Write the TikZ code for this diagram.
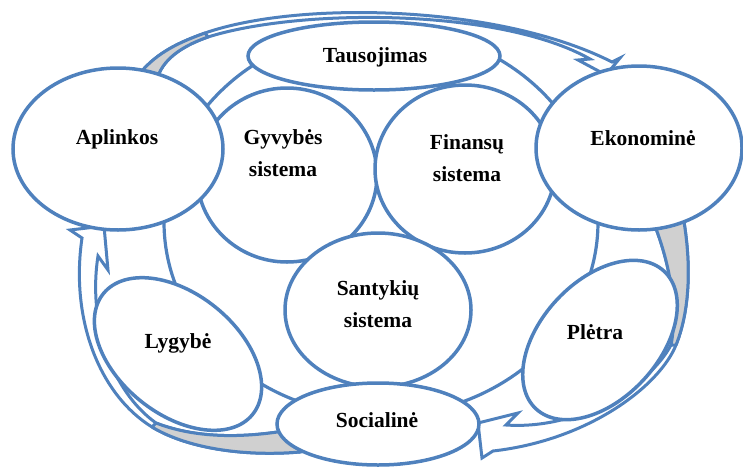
\documentclass[tikz,border=0pt]{standalone}
\usepackage{fontspec}
\setmainfont{Liberation Serif}
\usetikzlibrary{shapes.geometric}
\definecolor{sblue}{RGB}{79,129,189}
\definecolor{sgray}{RGB}{208,208,208}
\begin{document}
\begin{tikzpicture}[x=1pt,y=-1pt,
  blob/.style={draw=sblue, line width=3.5pt, fill=white, ellipse, inner sep=0pt, outer sep=0pt},
  ringline/.style={draw=sblue, line width=3.2pt, ellipse, inner sep=0pt, outer sep=0pt},
  lbl/.style={font=\fontsize{21.5}{32}\selectfont\bfseries, align=center, inner sep=0pt},
  band/.style={draw=sblue, line width=3pt, fill=white, line join=miter},
  foldpart/.style={draw=sblue, line width=3pt, fill=sgray, line join=round}]
\useasboundingbox (0,0) rectangle (743,466);
% background ring
\node[ringline, minimum width=434pt, minimum height=388pt] (ring) at (381,222) {};
% top arrow: Aplinkos -> Ekonomine
\path[band] (141,72) .. controls (158,52) and (180,42) .. (205,33)
  .. controls (300,0) and (500,5) .. (612,62)
  -- (620,58) -- (606,75) -- (578,60) -- (590,59)
  .. controls (500,8) and (300,8) .. (208,37)
  .. controls (185,45) and (165,57) .. (158,76) -- cycle;
\path[foldpart] (141,72) .. controls (158,52) and (180,42) .. (205,33)
  -- (208,37) .. controls (185,45) and (165,57) .. (158,76) -- cycle;
% right arrow: Ekonomine -> Socialine
\path[band] (684,222) .. controls (691,265) and (690,310) .. (676,345)
  .. controls (660,385) and (590,440) .. (493,451)
  -- (482,458) -- (478,423) -- (518,413) -- (506,425)
  .. controls (580,430) and (650,385) .. (671,345)
  .. controls (678,310) and (670,265) .. (655,226) -- cycle;
\path[foldpart] (684,222) .. controls (691,265) and (690,310) .. (676,345)
  -- (671,345) .. controls (678,310) and (670,265) .. (655,226) -- cycle;
% left arrow: Socialine -> Aplinkos
\path[band] (300,452) .. controls (240,457) and (185,447) .. (152,427)
  .. controls (100,395) and (70,320) .. (82,238)
  -- (70,230) -- (104,226) -- (108,270) -- (98,256)
  .. controls (88,320) and (110,390) .. (156,423)
  .. controls (200,440) and (250,437) .. (290,430) -- cycle;
\path[foldpart] (300,452) .. controls (240,457) and (185,447) .. (152,427)
  -- (156,423) .. controls (200,440) and (250,437) .. (290,430) -- cycle;
% ellipses
\node[blob, minimum width=180pt, minimum height=174pt] (gyv) at (287,175) {};
\node[blob, minimum width=180pt, minimum height=168pt] (fin) at (465,169) {};
\node[blob, minimum width=186pt, minimum height=154pt] (san) at (378,310) {};
\node[blob, minimum width=252pt, minimum height=68pt] (tau) at (374,56) {};
\node[blob, minimum width=210pt, minimum height=162pt] (apl) at (118,149) {};
\node[blob, minimum width=206pt, minimum height=164pt] (eko) at (639,148) {};
\node[blob, minimum width=192pt, minimum height=120pt, rotate=-39] (lyg) at (178,354) {};
\node[blob, minimum width=188pt, minimum height=118pt, rotate=47] (ple) at (600,340) {};
\node[blob, minimum width=202pt, minimum height=82pt] (soc) at (378,424) {};
% labels
\node[lbl] (aplT) at (117,139) {Aplinkos};
\node[lbl] (gyvT) at (283,153) {Gyvybės\\sistema};
\node[lbl] (tauT) at (375,57) {Tausojimas};
\node[lbl] (finT) at (467,158) {Finansų\\sistema};
\node[lbl] (ekoT) at (643,138) {Ekonominė};
\node[lbl] (sanT) at (378,304) {Santykių\\sistema};
\node[lbl] (socT) at (377,420) {Socialinė};
\node[lbl] (lygT) at (178,343) {Lygybė};
\node[lbl] (pleT) at (595,332) {Plėtra};
\end{tikzpicture}
\end{document}
